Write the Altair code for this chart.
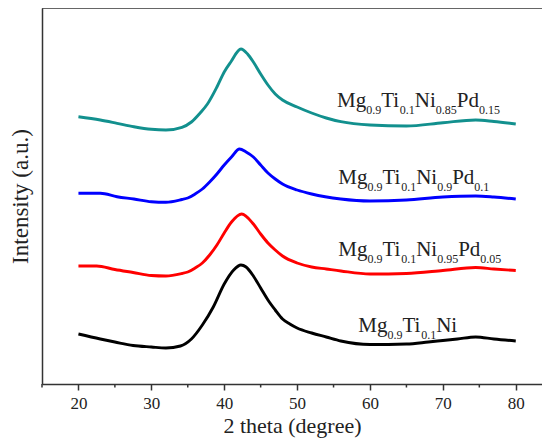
import altair as alt
import pandas as pd

# ---- data (2 theta in degrees, intensity in arbitrary units) ----
tt_black = [20, 23, 25, 27.5, 30, 32, 34, 35.5, 37, 38.5, 40, 41.3, 42.3, 43, 44, 45, 46, 47, 48, 49, 50, 52, 54, 56, 60, 65, 68, 70, 72, 74.5, 77, 80]
int_black = [50, 45, 42, 38.5, 37, 36, 38, 45, 59, 77, 100, 114, 119, 117, 108, 96, 84, 74, 65, 60, 56, 51, 47, 43, 39.5, 40, 42, 43.5, 45, 47, 45, 43]

tt_red = [20, 22.5, 25, 27.5, 30, 32, 34.2, 35, 36, 37, 38, 39, 40, 41, 42.4, 44, 45, 46, 47, 48, 50, 52, 54, 56, 60, 65, 70, 74.5, 77, 80]
int_red = [118, 118, 114.5, 111.5, 108.5, 108, 110.5, 112, 116, 121, 129, 139, 151, 162, 170, 160, 150, 141, 134, 128, 121, 117, 115, 113, 110, 110.5, 113.5, 116.5, 115, 113.5]

tt_blue = [20, 23, 25.3, 27.6, 30, 32, 34.2, 35, 36, 37, 38, 39, 40, 41, 42.1, 43, 44, 45, 46, 47, 48, 50, 52, 56, 60, 65, 70, 74.5, 77, 80]
int_blue = [190.7, 190.7, 187.3, 185, 182.3, 181.7, 184.5, 186, 190, 195, 202, 210, 219, 227, 235, 232, 227, 219, 211, 205, 200, 194, 190, 185, 183, 184, 187, 188, 187, 185]

tt_teal = [20, 23, 25.3, 27.6, 30, 32, 34.2, 35.5, 36.7, 37.7, 39, 40, 40.9, 42.3, 43.2, 44, 45, 46, 47, 48, 50, 52, 54, 56, 60, 65, 70, 74.5, 77, 80]
int_teal = [267.3, 264, 260.7, 257.3, 254.7, 254, 256.7, 262, 271, 280, 297, 312, 322, 335, 330, 322, 310, 299, 290, 284, 277, 271, 266, 262.3, 259, 258, 261.3, 264, 262.5, 260]

series_names = ["Mg0.9Ti0.1Ni", "Mg0.9Ti0.1Ni0.95Pd0.05", "Mg0.9Ti0.1Ni0.9Pd0.1", "Mg0.9Ti0.1Ni0.85Pd0.15"]
series_colors = ["#000000", "#ff0000", "#0000ff", "#12908e"]

# label pieces (text, is_subscript) and anchor (2 theta, intensity) of each label
label_pieces = [
    [("Mg", False), ("0.9", True), ("Ti", False), ("0.1", True), ("Ni", False)],
    [("Mg", False), ("0.9", True), ("Ti", False), ("0.1", True), ("Ni", False), ("0.95", True), ("Pd", False), ("0.05", True)],
    [("Mg", False), ("0.9", True), ("Ti", False), ("0.1", True), ("Ni", False), ("0.9", True), ("Pd", False), ("0.1", True)],
    [("Mg", False), ("0.9", True), ("Ti", False), ("0.1", True), ("Ni", False), ("0.85", True), ("Pd", False), ("0.15", True)],
]
label_x = [58.4, 55.66, 55.66, 55.47]
label_y = [51.7, 128.3, 200, 277.3]

x_domain = [15, 83.6]
y_domain = [0, 376]
major_ticks = [20, 30, 40, 50, 60, 70, 80]
minor_ticks = [15, 25, 35, 45, 55, 65, 75]

# ---- build tables ----
rows = []
for name, xs, ys in zip(series_names,
                        [tt_black, tt_red, tt_blue, tt_teal],
                        [int_black, int_red, int_blue, int_teal]):
    for i, (a, b) in enumerate(zip(xs, ys)):
        rows.append({"series": name, "tt": a, "I": b, "order": i})
df = pd.DataFrame(rows)

W, H = 500, 376
px_per_deg = W / (x_domain[1] - x_domain[0])
MAIN_FS, SUB_FS = 21, 12
em = {"M": 0.889, "g": 0.5, "T": 0.611, "i": 0.278, "N": 0.722, "P": 0.556, "d": 0.5,
      ".": 0.25, "0": 0.5, "1": 0.5, "5": 0.5, "8": 0.5, "9": 0.5}

seg_rows = []
for pieces, lx, ly in zip(label_pieces, label_x, label_y):
    off = 0.0
    for txt, sub in pieces:
        fs = SUB_FS if sub else MAIN_FS
        seg_rows.append({"t": txt, "tt": lx + off / px_per_deg, "I": ly - (7 if sub else 0), "fs": fs})
        off += sum(em[c] for c in txt) * fs
seg = pd.DataFrame(seg_rows)

FONT = "Liberation Serif"

xscale = alt.Scale(domain=x_domain, nice=False, zero=False)
yscale = alt.Scale(domain=y_domain, nice=False, zero=False)

X_AXIS = alt.Axis(values=major_ticks, tickSize=6, format="d",
                  grid=False, labelFont=FONT, labelFontSize=17, labelColor="#222",
                  titleFont=FONT, titleFontSize=22, titleFontWeight="normal", titleColor="#222",
                  domainColor="#333", domainWidth=1.5, tickColor="#333", tickWidth=1.5,
                  labelPadding=5, titlePadding=4)
Y_AXIS = alt.Axis(labels=False, ticks=False, grid=False,
                  titleFont=FONT, titleFontSize=23, titleFontWeight="normal", titleColor="#222",
                  domainColor="#333", domainWidth=1.5, titlePadding=10)
X_TITLE = "2 theta (degree)"
Y_TITLE = "Intensity (a.u.)"

lines = alt.Chart(df).mark_line(strokeWidth=2.9, interpolate="monotone").encode(
    x=alt.X("tt:Q", scale=xscale, title=X_TITLE, axis=X_AXIS),
    y=alt.Y("I:Q", scale=yscale, title=Y_TITLE, axis=Y_AXIS),
    color=alt.Color("series:N", scale=alt.Scale(domain=series_names, range=series_colors), legend=None),
    order="order:Q",
)

# minor ticks drawn as short rules hanging below the x axis
minor = alt.Chart(pd.DataFrame({"tt": minor_ticks})).mark_rule(color="#333", strokeWidth=1.5).encode(
    x=alt.X("tt:Q", scale=xscale, title=X_TITLE, axis=X_AXIS),
    y=alt.value(H),
    y2=alt.value(H + 3.5),
)

top_border = alt.Chart(pd.DataFrame({"k": [0]})).mark_rule(color="#333", strokeWidth=1.5).encode(
    x=alt.value(0), x2=alt.value(W), y=alt.value(0)
)

labels = alt.Chart(seg).mark_text(align="left", baseline="alphabetic", font=FONT, color="#222").encode(
    x=alt.X("tt:Q", scale=xscale, title=X_TITLE, axis=X_AXIS),
    y=alt.Y("I:Q", scale=yscale, title=Y_TITLE, axis=Y_AXIS),
    text="t:N",
    size=alt.Size("fs:Q", scale=None),
)

chart = alt.layer(lines, minor, top_border, labels).properties(
    width=W, height=H,
    autosize=alt.AutoSizeParams(type="none"),
    padding={"left": 34, "top": 0, "right": 0, "bottom": 56},
).configure_view(stroke=None)

chart.save("out.html", embed_options={"renderer": "svg", "actions": False})
